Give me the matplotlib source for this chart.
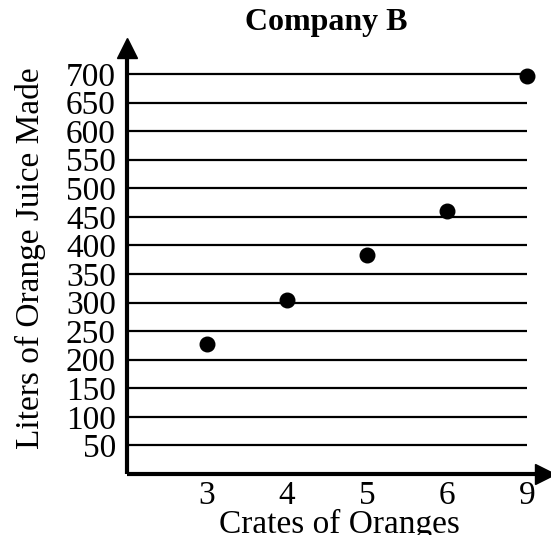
import matplotlib.pyplot as plt
import numpy as np

plt.rcParams['font.family'] = ['Liberation Serif', 'DejaVu Serif']

crates = ['3', '4', '5', '6', '9']
liters = [228, 305, 383, 460, 696]
y_ticks = list(range(50, 701, 50))

fig = plt.figure(figsize=(5.51, 5.35), dpi=100)
ax = fig.add_axes([0.2305, 0.114, 0.7695, 0.8075])

x = np.arange(1, len(crates) + 1)

# horizontal lines, only as far as the last category
ax.hlines(y_ticks, 0, x[-1], color='black', linewidth=1.6, zorder=1)

ax.scatter(x, liters, s=110, color='black', zorder=3)

ax.set_xlim(0, 5.3)
ax.set_ylim(0, 756)

for s in ax.spines.values():
    s.set_visible(False)

# axes with arrow heads
ax.plot([0, 0], [0, 0.985], transform=ax.transAxes, color='black',
        linewidth=3, clip_on=False, solid_capstyle='butt')
ax.plot([0, 0.985], [0, 0], transform=ax.transAxes, color='black',
        linewidth=3, clip_on=False, solid_capstyle='butt')
ax.plot(0, 0.985, marker='^', markersize=15, color='black',
        transform=ax.transAxes, clip_on=False)
ax.plot(0.985, 0, marker='>', markersize=15, color='black',
        transform=ax.transAxes, clip_on=False)

ax.set_xticks(x)
ax.set_xticklabels(crates)
ax.set_yticks(y_ticks)
ax.tick_params(axis='both', length=0, labelsize=24)
ax.tick_params(axis='y', pad=8)
ax.tick_params(axis='x', pad=5)

ax.set_xlabel('Crates of Oranges', fontsize=24, labelpad=-2)
ax.set_ylabel('Liters of Orange Juice Made', fontsize=24, labelpad=14)
fig.text(0.592, 0.958, 'Company B', fontsize=23, fontweight='bold',
         ha='center', va='center')

fig.savefig('out.png', dpi=100)
